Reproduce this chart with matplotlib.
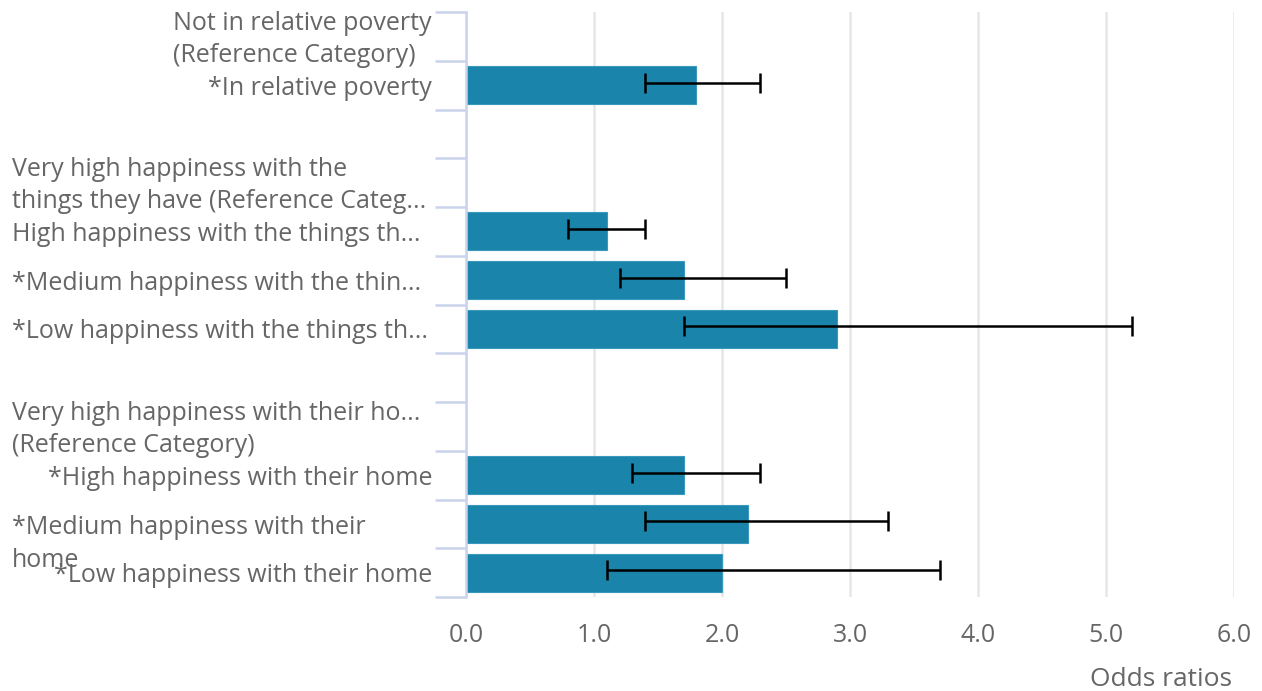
import matplotlib
matplotlib.use("Agg")
import matplotlib.pyplot as plt
import matplotlib.transforms as mtransforms
import numpy as np

plt.rcParams['font.family'] = ['Open Sans', 'DejaVu Sans']

# slots from top; None = empty row (reference category or spacer)
labels = [
    "Not in relative poverty\n(Reference Category)",
    "*In relative poverty",
    "",
    "Very high happiness with the\nthings they have (Reference Categ...",
    "High happiness with the things th...",
    "*Medium happiness with the thin...",
    "*Low happiness with the things th...",
    "",
    "Very high happiness with their ho...\n(Reference Category)",
    "*High happiness with their home",
    "*Medium happiness with their\nhome",
    "*Low happiness with their home",
]
odds = [None, 1.8, None, None, 1.1, 1.7, 2.9, None, None, 1.7, 2.2, 2.0]
ci_low = [None, 1.4, None, None, 0.8, 1.2, 1.7, None, None, 1.3, 1.4, 1.1]
ci_high = [None, 2.3, None, None, 1.4, 2.5, 5.2, None, None, 2.3, 3.3, 3.7]
# how each label sits: 'r' right aligned at the axis, 'l' starts at the left edge
label_align = ['b', 'r', 'r', 'l', 'l', 'l', 'l', 'r', 'l', 'r', 'w', 'r']
x_ticks = [0, 1, 2, 3, 4, 5, 6]

W, H = 1262, 691
fig = plt.figure(figsize=(W / 100, H / 100), dpi=100)
ax = fig.add_axes([466 / W, 1 - 597 / H, (1234 - 466) / W, (597 - 12) / H])

bar_color = "#1b84ab"
txt_color = "#666666"
axis_color = "#c9d4ec"
fs = 18

ypos = np.arange(len(labels)) + 0.5
for y, v, lo, hi in zip(ypos, odds, ci_low, ci_high):
    if v is None:
        continue
    ax.barh(y, v, height=0.78, color=bar_color, edgecolor="#3a98bd", linewidth=0.8, zorder=2)
    ax.errorbar(v, y - 0.05, xerr=[[v - lo], [hi - v]], fmt="none", ecolor="black",
                elinewidth=1.8, capsize=7, capthick=1.8, zorder=3)

ax.set_xlim(0, 6)
ax.set_ylim(len(labels), 0)
ax.set_xticks(x_ticks)
ax.set_xticklabels([f"{t:.1f}" for t in x_ticks])
ax.tick_params(axis="x", length=0, pad=19, labelsize=fs, labelcolor=txt_color)
ax.set_yticks(np.arange(len(labels) + 1))
ax.set_yticklabels([])
ax.tick_params(axis="y", length=22, width=1.8, color=axis_color, direction="out")
ax.grid(axis="x", color="#e6e6e6", linewidth=1.8, zorder=0)
ax.set_axisbelow(True)
for s in ["top", "right", "bottom"]:
    ax.spines[s].set_visible(False)
ax.spines["left"].set_color(axis_color)
ax.spines["left"].set_linewidth(1.8)

# category labels placed in figure pixels horizontally, data units vertically
trans = mtransforms.blended_transform_factory(fig.transFigure, ax.transData)
dy = 0.06
for y, lab, al in zip(ypos, labels, label_align):
    if not lab:
        continue
    kw = dict(transform=trans, va="center", fontsize=fs, color=txt_color,
              linespacing=1.4, multialignment="left")
    if al == 'r':
        ax.text(432 / W, y + dy, lab, ha="right", **kw)
    elif al == 'b':
        ax.text(173 / W, y + dy, lab, ha="left", **kw)
    elif al == 'w':
        ax.text(12 / W, y + 0.35 + dy, lab, ha="left", **kw)
    else:
        ax.text(12 / W, y + dy, lab, ha="left", **kw)

fig.text(1232 / W, 1 - 680 / H, "Odds ratios", ha="right", va="center", fontsize=19, color=txt_color)

fig.savefig("out.png", dpi=100)
